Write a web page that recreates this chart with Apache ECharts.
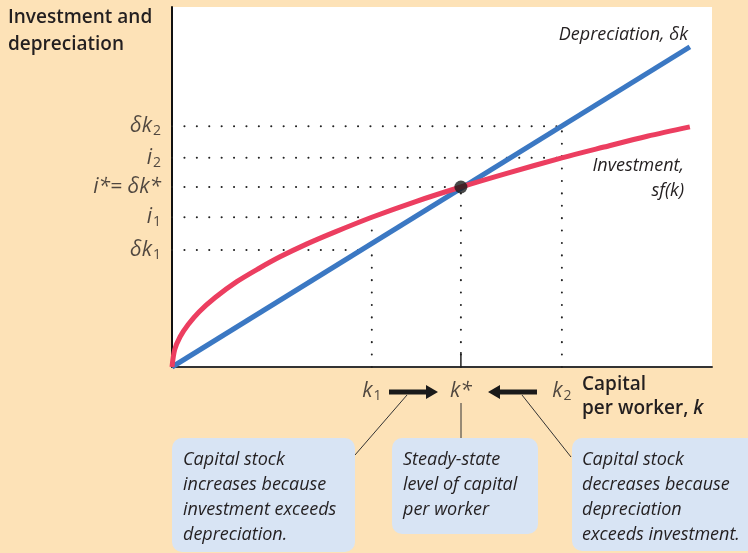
<!DOCTYPE html>
<html>
<head>
<meta charset="utf-8">
<script src="https://cdn.jsdelivr.net/npm/echarts@6/dist/echarts.min.js"></script>
<style>
  html, body { margin: 0; padding: 0; background: #fde2b7; }
  #chart { width: 748px; height: 553px; }
</style>
</head>
<body>
<div id="chart"></div>
<script>
// values, in plot units (0..100 on both axes)
const capital = [0, 0.5, 1.5, 3, 5, 8, 12, 16, 20, 25, 30, 37, 45, 53.5, 62, 72.2, 80, 88, 95.9];
const investment = [0, 4.8, 8.4, 11.8, 15.3, 19.3, 23.7, 27.3, 30.6, 34.2, 37.4, 41.6, 45.9, 50, 53.8, 58.1, 61.1, 64.1, 66.7];
const depCapital = [0, 95.9];
const depreciation = [0, 88.9];

const kStar = 53.5;
const iStar = 50;

// y tick marks: label, value, where the dotted guide ends
const yTickLabels = ['{v|δk}{s|2}', '{v|i}{s|2}', '{v|i*= δk*}', '{v|i}{s|1}', '{v|δk}{s|1}'];
const yTickValues = [66.9, 58.1, 50, 41.6, 32.5];
const yGuideEnds = [72.2, 72.2, 53.5, 37, 35];

// x tick marks: label, value, where the dotted guide ends
const xTickLabels = ['{v|k}{s|1}', '{v|k*}', '{v|k}{s|2}'];
const xTickValues = [37, 53.5, 72.2];
const xGuideEnds = [41.6, 50, 66.9];

const FONT = '"Open Sans", Lato, "DejaVu Sans", sans-serif';
const INK = '#231f20';

const richLabel = {
  v: { fontFamily: FONT, fontStyle: 'italic', fontSize: 21, color: INK, lineHeight: 24 },
  s: { fontFamily: FONT, fontSize: 14, color: INK, lineHeight: 12, padding: [12, 0, 0, 1], verticalAlign: 'bottom' }
};

const guide = (data) => ({
  type: 'line',
  data: data,
  symbol: 'none',
  silent: true,
  lineStyle: { color: '#222', width: 2, type: [0.1, 12.3], cap: 'round' },
  z: 2
});

const series = [];
yTickValues.forEach((v, i) => series.push(guide([[0, v], [yGuideEnds[i], v]])));
xTickValues.forEach((v, i) => series.push(guide([[v, 0], [v, xGuideEnds[i]]])));

// short solid tick at k*
series.push({
  type: 'line', data: [[kStar, 0], [kStar, 4.2]], symbol: 'none', silent: true,
  lineStyle: { color: '#222', width: 1.5 }, z: 3
});

series.push({
  name: 'Depreciation', type: 'line',
  data: depCapital.map((k, i) => [k, depreciation[i]]),
  symbol: 'none', lineStyle: { color: '#3b78c3', width: 5, cap: 'butt' }, z: 4
});
series.push({
  name: 'Investment', type: 'line', smooth: 0.3,
  data: capital.map((k, i) => [k, investment[i]]),
  symbol: 'none', lineStyle: { color: '#ec3e60', width: 5, cap: 'butt' }, z: 5
});
series.push({
  type: 'scatter', data: [[kStar, iStar]], symbolSize: 13,
  itemStyle: { color: '#1a1a1a' }, z: 6
});

// y tick labels
series.push({
  type: 'scatter', symbolSize: 0, silent: true,
  data: yTickValues.map((v, i) => ({ value: [0, v], label: { formatter: yTickLabels[i] } })),
  label: { show: true, position: 'left', distance: 11, rich: richLabel },
  z: 7
});
// x tick labels
series.push({
  type: 'scatter', symbolSize: 0, silent: true,
  data: xTickValues.map((v, i) => ({ value: [v, 0], label: { formatter: xTickLabels[i] } })),
  label: { show: true, position: 'bottom', distance: 12, rich: richLabel },
  z: 7
});

const boxFill = '#d8e4f4';
const boxText = (x, y, text) => ({
  type: 'text', z: 10,
  style: { text: text, x: x, y: y, fill: INK, font: 'italic 18px ' + FONT, lineHeight: 25, verticalAlign: 'top' }
});

const myChart = echarts.init(document.getElementById('chart'));
const option = {
  backgroundColor: '#fde2b7',
  animation: false,
  grid: { left: 172, right: 36, top: 7, bottom: 186, show: true, backgroundColor: '#ffffff', borderWidth: 0 },
  xAxis: {
    type: 'value', min: 0, max: 100,
    axisLine: { show: true, onZero: false, lineStyle: { color: '#333', width: 2 } },
    axisTick: { show: false }, axisLabel: { show: false }, splitLine: { show: false }
  },
  yAxis: {
    type: 'value', min: 0, max: 100,
    axisLine: { show: true, onZero: false, lineStyle: { color: '#111', width: 2 } },
    axisTick: { show: false }, axisLabel: { show: false }, splitLine: { show: false }
  },
  graphic: [
    { type: 'text', style: { text: 'Investment and\ndepreciation', x: 8, y: 4, fill: INK, font: '600 19px ' + FONT, lineHeight: 27, verticalAlign: 'top' } },
    { type: 'text', style: { text: 'Depreciation, δk', x: 688, y: 35, fill: INK, font: 'italic 18px ' + FONT, align: 'right', verticalAlign: 'middle' } },
    { type: 'text', style: { text: 'Investment,\nsf(k)', x: 684, y: 153, fill: INK, font: 'italic 18px ' + FONT, align: 'right', lineHeight: 25, verticalAlign: 'top' } },
    {
      type: 'text',
      style: {
        text: '{b|Capital}\n{b|per worker, }{i|k}', x: 582, y: 373, fill: INK, verticalAlign: 'top',
        rich: {
          b: { fontFamily: FONT, fontWeight: 600, fontSize: 19, lineHeight: 24, fill: INK },
          i: { fontFamily: FONT, fontWeight: 600, fontStyle: 'italic', fontSize: 19, lineHeight: 24, fill: INK }
        }
      }
    },
    // arrows
    { type: 'polygon', shape: { points: [[389, 389.5], [426, 389.5], [426, 385], [438, 392], [426, 399], [426, 394.5], [389, 394.5]] }, style: { fill: '#1a1a1a' } },
    { type: 'polygon', shape: { points: [[537, 389.5], [500, 389.5], [500, 385], [488, 392], [500, 399], [500, 394.5], [537, 394.5]] }, style: { fill: '#1a1a1a' } },
    // leader lines
    { type: 'line', shape: { x1: 407, y1: 395, x2: 355, y2: 455 }, style: { stroke: '#333', lineWidth: 1 } },
    { type: 'line', shape: { x1: 461, y1: 403, x2: 461, y2: 438 }, style: { stroke: '#333', lineWidth: 1 } },
    { type: 'line', shape: { x1: 522, y1: 395, x2: 571, y2: 457 }, style: { stroke: '#333', lineWidth: 1 } },
    // boxes
    { type: 'rect', shape: { x: 172, y: 438, width: 183, height: 114, r: 10 }, style: { fill: boxFill } },
    { type: 'rect', shape: { x: 392, y: 438, width: 146, height: 96, r: 10 }, style: { fill: boxFill } },
    { type: 'rect', shape: { x: 572, y: 438, width: 190, height: 113, r: 10 }, style: { fill: boxFill } },
    boxText(183, 447, 'Capital stock\nincreases because\ninvestment exceeds\ndepreciation.'),
    boxText(403, 447, 'Steady-state\nlevel of capital\nper worker'),
    boxText(582, 447, 'Capital stock\ndecreases because\ndepreciation\nexceeds investment.')
  ],
  series: series
};
myChart.setOption(option);
window.addEventListener('resize', () => myChart.resize());
</script>
</body>
</html>
